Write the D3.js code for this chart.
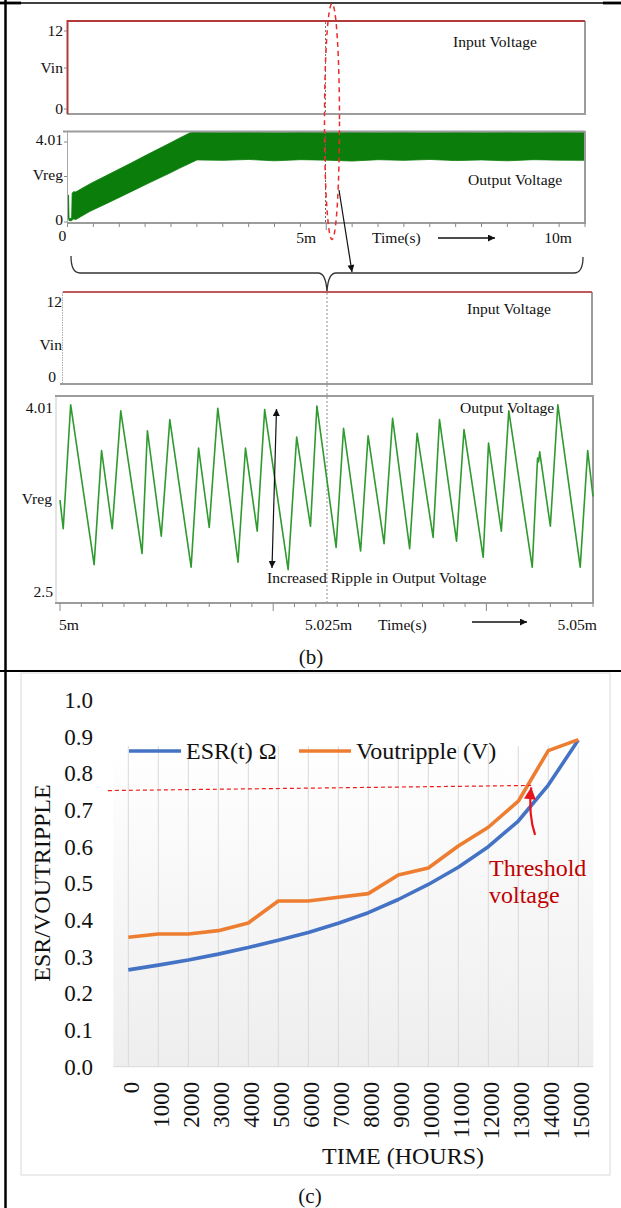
<!DOCTYPE html>
<html>
<head>
<meta charset="utf-8">
<script src="https://cdn.jsdelivr.net/npm/d3@7"></script>
<style>
  body { margin: 0; background: #fff; }
  svg { display: block; font-family: "Liberation Serif", "Times New Roman", serif; }
</style>
</head>
<body>
<svg id="fig" width="621" height="1208"></svg>
<script>
// ---------- data (b): 0..10 ms run ----------
var vinT = [0, 0, 10];          // ms
var vinV = [0, 12, 12];         // V
// envelope of the switching ripple on Vreg
var vregT  = [0.01, 0.02, 0.03, 0.08, 0.09, 0.12, 0.16, 0.43, 0.82, 1.21, 1.59, 1.98, 2.17, 2.40, 2.50, 3.0, 3.5, 4.0, 4.5, 5.0, 5.5, 6.0, 6.5, 7.0, 7.5, 8.0, 8.5, 9.0, 9.5, 10.0];
var vregLo = [0.22, 0.22, 0.10, 0.10, 0.13, 0.18, 0.15, 0.51, 0.93, 1.36, 1.78, 2.20, 2.42, 2.67, 2.78, 2.76, 2.80, 2.74, 2.79, 2.77, 2.73, 2.79, 2.76, 2.80, 2.75, 2.78, 2.74, 2.79, 2.77, 2.76];
var vregHi = [1.23, 1.23, 0.20, 0.20, 1.32, 1.38, 1.37, 1.72, 2.17, 2.62, 3.07, 3.52, 3.75, 4.01, 4.01, 4.00, 4.01, 3.99, 4.01, 4.00, 4.01, 4.00, 4.01, 3.99, 4.01, 4.00, 4.01, 4.00, 4.01, 4.00];

// ---------- data (b): zoom 5.0 .. 5.05 ms ----------
var zoomVinT = [5.0, 5.05];
var zoomVinV = [12, 12];
var rippleT = [5.0000,5.0003,5.0010,5.0032,5.0039,5.0049,5.0057,5.0077,5.0082,5.0095,5.0103,5.0123,5.0130,5.0140,5.0148,5.0167,5.0174,5.0185,5.0192,5.0214,5.0222,5.0235,5.0241,5.0259,5.0266,5.0282,5.0289,5.0304,5.0312,5.0328,5.0335,5.0350,5.0356,5.0372,5.0379,5.0397,5.0402,5.0414,5.0421,5.0443,5.0448,5.0449,5.0450,5.0460,5.0467,5.0488,5.0495,5.0500];
var rippleV = [3.24,3.01,4.01,2.72,3.64,3.01,3.96,2.81,3.80,2.95,3.89,2.70,3.66,3.02,3.98,2.74,3.66,2.99,3.97,2.68,3.75,3.03,4.00,2.86,3.82,2.83,3.76,2.89,3.90,2.85,3.78,2.94,3.89,2.91,3.81,2.78,3.70,2.99,3.96,2.70,3.58,3.55,3.63,3.03,4.01,2.70,3.64,3.27];

// ---------- data (c) ----------
var hours = ["0","1000","2000","3000","4000","5000","6000","7000","8000","9000","10000","11000","12000","13000","14000","15000"];
var esr   = [0.264,0.277,0.291,0.307,0.325,0.345,0.366,0.391,0.420,0.456,0.497,0.544,0.600,0.670,0.768,0.891];
var vrip  = [0.353,0.362,0.362,0.371,0.392,0.452,0.452,0.462,0.472,0.523,0.542,0.602,0.653,0.724,0.862,0.892];
var yTicksC = [0,0.1,0.2,0.3,0.4,0.5,0.6,0.7,0.8,0.9,1.0];
// threshold annotation (category index, value)
var thrIdx = [-0.68, 13.43], thrVal = [0.753, 0.767];
var arrIdx = [13.56, 13.43], arrVal = [0.632, 0.762];

var svg = d3.select("#fig");
var defs = svg.append("defs");

function marker(id, color, w, h) {
  defs.append("marker").attr("id", id)
    .attr("viewBox", "0 0 10 10").attr("refX", 10).attr("refY", 5)
    .attr("markerWidth", w).attr("markerHeight", h)
    .attr("markerUnits", "userSpaceOnUse").attr("orient", "auto-start-reverse")
    .append("path").attr("d", "M0,0L10,5L0,10z").attr("fill", color);
}
marker("ab", "#111", 9, 7);
marker("ar", "#e8141b", 14, 12);

var grad = defs.append("linearGradient").attr("id", "plotbg")
  .attr("x1", 0).attr("y1", 0).attr("x2", 0).attr("y2", 1);
grad.append("stop").attr("offset", "0%").attr("stop-color", "#ffffff");
grad.append("stop").attr("offset", "100%").attr("stop-color", "#eeeeee");

// ---------- outer table frame ----------
svg.append("line").attr("x1", 0).attr("x2", 621).attr("y1", 3).attr("y2", 3)
  .attr("stroke", "#000").attr("stroke-width", 1.3);
svg.append("line").attr("x1", 0).attr("x2", 21).attr("y1", 3).attr("y2", 3)
  .attr("stroke", "#000").attr("stroke-width", 2.8);
svg.append("line").attr("x1", 603).attr("x2", 621).attr("y1", 3).attr("y2", 3)
  .attr("stroke", "#000").attr("stroke-width", 2.8);
svg.append("line").attr("x1", 5.5).attr("x2", 5.5).attr("y1", 0).attr("y2", 1208)
  .attr("stroke", "#000").attr("stroke-width", 2.5);
svg.append("line").attr("x1", 0).attr("x2", 621).attr("y1", 671).attr("y2", 671)
  .attr("stroke", "#000").attr("stroke-width", 2);

var gray = "#9c9c9c";
var fsB = 15.6;   // label size in the (b) panels
function label(g, txt, x, y, anchor, size, color) {
  return g.append("text").attr("x", x).attr("y", y).attr("dy", "0.35em")
    .attr("text-anchor", anchor || "start").attr("font-size", size || fsB)
    .attr("fill", color || "#111").text(txt);
}

// ================= (b) top: Vin 0..10 ms =================
var xt = d3.scaleLinear().domain([0, 10]).range([67.5, 585]);
var yv = d3.scaleLinear().domain([0, 12]).range([114, 21]);
var g1 = svg.append("g");
g1.append("line").attr("x1", 67).attr("x2", 585).attr("y1", 114).attr("y2", 114).attr("stroke", gray).attr("stroke-width", 2);
g1.append("line").attr("x1", 585).attr("x2", 585).attr("y1", 21).attr("y2", 115).attr("stroke", gray).attr("stroke-width", 2);
g1.append("line").attr("x1", 325.5).attr("x2", 325.5).attr("y1", 22).attr("y2", 113)
  .attr("stroke", "#777").attr("stroke-dasharray", "2,2");
g1.append("path")
  .attr("d", d3.line().x(function(d, i){ return xt(vinT[i]); }).y(function(d){ return yv(d); })(vinV))
  .attr("fill", "none").attr("stroke", "#b23a3a").attr("stroke-width", 2);
[[12, 10, "12"], [6, 0.5, "Vin"], [0, -5, "0"]].forEach(function(t){
  label(g1, t[2], 63, yv(t[0]) + t[1], "end");
  g1.append("line").attr("x1", 64).attr("x2", 67).attr("y1", yv(t[0]) + t[1]).attr("y2", yv(t[0]) + t[1]).attr("stroke", "#888");
});
label(g1, "Input Voltage", 453, 42);

// ================= (b) top: Vreg 0..10 ms =================
var yg = d3.scaleLinear().domain([0, 4.01]).range([223, 132]);
var g2 = svg.append("g");
g2.append("path")
  .attr("d", d3.area().x(function(d, i){ return xt(vregT[i]); })
    .y0(function(d, i){ return yg(vregLo[i]); }).y1(function(d){ return yg(d); })(vregHi))
  .attr("fill", "#0a7d0a").attr("stroke", "#0a7d0a").attr("stroke-width", 0.8);
g2.append("line").attr("x1", 63).attr("x2", 585).attr("y1", 131.5).attr("y2", 131.5).attr("stroke", gray).attr("stroke-width", 2);
g2.append("line").attr("x1", 585).attr("x2", 585).attr("y1", 131).attr("y2", 224).attr("stroke", gray).attr("stroke-width", 2);
g2.append("line").attr("x1", 67.5).attr("x2", 67.5).attr("y1", 132).attr("y2", 223).attr("stroke", "#aaa");
g2.append("line").attr("x1", 67).attr("x2", 585).attr("y1", 223).attr("y2", 223).attr("stroke", gray).attr("stroke-width", 2);
g2.append("line").attr("x1", 325.5).attr("x2", 325.5).attr("y1", 132).attr("y2", 222)
  .attr("stroke", "#666").attr("stroke-dasharray", "2,2");
g2.selectAll(".tk").data(xt.ticks(20)).enter().append("line")
  .attr("x1", function(d){ return xt(d); }).attr("x2", function(d){ return xt(d); })
  .attr("y1", 223).attr("y2", function(d){ return d === 5 ? 230 : 227; })
  .attr("stroke", "#888");
[[4.01, 8, "4.01"], [2.005, -3, "Vreg"], [0, -3, "0"]].forEach(function(t){
  label(g2, t[2], 63, yg(t[0]) + t[1], "end");
  g2.append("line").attr("x1", 64).attr("x2", 67).attr("y1", yg(t[0]) + t[1] + 2).attr("y2", yg(t[0]) + t[1] + 2).attr("stroke", "#888");
});
label(g2, "Output Voltage", 468, 180);
label(g2, "0", xt(0) - 5, 236, "middle");
label(g2, "5m", xt(5) - 10, 238, "end");
label(g2, "10m", xt(10) - 13, 238, "end");
label(g2, "Time(s)", 372, 238);
g2.append("line").attr("x1", 438).attr("x2", 495).attr("y1", 238).attr("y2", 238)
  .attr("stroke", "#111").attr("stroke-width", 1.4).attr("marker-end", "url(#ab)");

// red dashed ellipse + arrow to zoom
svg.append("ellipse").attr("cx", 332).attr("cy", 121.5).attr("rx", 7.5).attr("ry", 118)
  .attr("fill", "none").attr("stroke", "#ee2a2a").attr("stroke-width", 1.5).attr("stroke-dasharray", "5,4");
svg.append("line").attr("x1", 339).attr("y1", 190).attr("x2", 352).attr("y2", 272)
  .attr("stroke", "#111").attr("stroke-width", 1.2).attr("marker-end", "url(#ab)");

// brace
svg.append("path")
  .attr("d", "M71,256 Q71,273 80,273 L318,273 Q326,273 327,292 Q328,273 336,273 L574,273 Q583,273 583,257")
  .attr("fill", "none").attr("stroke", "#333").attr("stroke-width", 1.3);

// ================= (b) zoom: Vin =================
var xl = d3.scaleLinear().domain([5.0, 5.05]).range([63, 592]);
var yl = d3.scaleLinear().domain([0, 12]).range([384, 292]);
var g3 = svg.append("g");
g3.append("line").attr("x1", 62.5).attr("x2", 62.5).attr("y1", 292).attr("y2", 384).attr("stroke", "#aaa").attr("stroke-dasharray", "1.5,1");
g3.append("line").attr("x1", 60).attr("x2", 592).attr("y1", 384).attr("y2", 384).attr("stroke", gray).attr("stroke-width", 2);
g3.append("line").attr("x1", 592).attr("x2", 592).attr("y1", 292).attr("y2", 385).attr("stroke", gray).attr("stroke-width", 2);
g3.append("path")
  .attr("d", d3.line().x(function(d, i){ return xl(zoomVinT[i]); }).y(function(d){ return yl(d); })(zoomVinV))
  .attr("fill", "none").attr("stroke", "#c05a5a").attr("stroke-width", 2);
[[12, 10, "12"], [6, 7, "Vin"], [0, -7, "0"]].forEach(function(t){
  label(g3, t[2], t[2] === "0" ? 56 : 62, yl(t[0]) + t[1], "end");
});
label(g3, "Input Voltage", 467, 309);

// dotted marker line at 5.025 ms
svg.append("line").attr("x1", 327).attr("x2", 327).attr("y1", 293).attr("y2", 603)
  .attr("stroke", "#888").attr("stroke-dasharray", "2,2");

// ================= (b) zoom: Vreg ripple =================
var xr = d3.scaleLinear().domain([5.0, 5.05]).range([60, 593]);
var yr = d3.scaleLinear().domain([2.5, 4.01]).range([592, 404.7]);
var g4 = svg.append("g");
g4.append("line").attr("x1", 56).attr("x2", 56).attr("y1", 396).attr("y2", 603).attr("stroke", "#c8c8c8");
g4.append("line").attr("x1", 55).attr("x2", 594).attr("y1", 396).attr("y2", 396).attr("stroke", gray).attr("stroke-width", 2);
g4.append("line").attr("x1", 593).attr("x2", 593).attr("y1", 396).attr("y2", 604).attr("stroke", gray).attr("stroke-width", 2);
g4.append("line").attr("x1", 55).attr("x2", 594).attr("y1", 603).attr("y2", 603).attr("stroke", gray).attr("stroke-width", 2);
g4.selectAll(".tk").data(xr.ticks(20)).enter().append("line")
  .attr("x1", function(d){ return xr(d); }).attr("x2", function(d){ return xr(d); })
  .attr("y1", 603).attr("y2", function(d, i){ return i % 10 === 0 ? 611 : 607; })
  .attr("stroke", "#888");
g4.append("path")
  .attr("d", d3.line().x(function(d, i){ return xr(rippleT[i]); }).y(function(d){ return yr(d); })(rippleV))
  .attr("fill", "none").attr("stroke", "#2f9a2f").attr("stroke-width", 1.6).attr("stroke-linejoin", "round");
label(g4, "4.01", 53, yr(4.01) + 3, "end");
label(g4, "Vreg", 52, yr(3.255), "end");
label(g4, "2.5", 53, yr(2.5), "end");
label(g4, "Output Voltage", 460, 408);
label(g4, "Increased Ripple in Output Voltage", 267, 578);
g4.append("line").attr("x1", 272).attr("y1", 568).attr("x2", 276.5).attr("y2", 409)
  .attr("stroke", "#111").attr("stroke-width", 1.2)
  .attr("marker-start", "url(#ab)").attr("marker-end", "url(#ab)");
label(g4, "5m", xr(5.0) - 1, 625);
label(g4, "5.025m", xr(5.025) + 2, 625, "middle");
label(g4, "Time(s)", 378, 625);
label(g4, "5.05m", xr(5.05) + 4, 625, "end");
g4.append("line").attr("x1", 472).attr("x2", 527).attr("y1", 622).attr("y2", 622)
  .attr("stroke", "#111").attr("stroke-width", 1.4).attr("marker-end", "url(#ab)");

label(svg, "(b)", 311, 657, "middle", 21);

// ================= (c) ESR / ripple vs time =================
var xc = d3.scalePoint().domain(hours).range([113.3, 593.3]).padding(0.5);
var xi = d3.scaleLinear().domain([0, 15]).range([xc(hours[0]), xc(hours[15])]);
var yc = d3.scaleLinear().domain([0, 1]).range([1066.7, 700]);
var gc = svg.append("g").attr("font-size", 23);

gc.append("rect").attr("x", 21).attr("y", 673).attr("width", 589).attr("height", 502)
  .attr("fill", "#fff").attr("stroke", "#d9d9d9");
gc.append("rect").attr("x", 113.3).attr("y", 746).attr("width", 480).attr("height", yc(0) - 746)
  .attr("fill", "url(#plotbg)");
gc.selectAll(".grid").data(hours).enter().append("line")
  .attr("x1", function(d){ return xc(d); }).attr("x2", function(d){ return xc(d); })
  .attr("y1", 746).attr("y2", yc(0)).attr("stroke", "#d9d9d9");
gc.append("line").attr("x1", 113.3).attr("x2", 593.3).attr("y1", yc(0)).attr("y2", yc(0)).attr("stroke", "#d9d9d9");

var yAx = gc.append("g").attr("transform", "translate(113,0)")
  .call(d3.axisLeft(yc).tickValues(yTicksC).tickFormat(d3.format(".1f")).tickSize(0).tickPadding(20));
yAx.select(".domain").remove();
yAx.selectAll("text").attr("font-size", 23).attr("font-family", "Liberation Serif, serif").attr("fill", "#111");

var xAx = gc.append("g").attr("transform", "translate(0," + yc(0) + ")")
  .call(d3.axisBottom(xc).tickSize(0));
xAx.select(".domain").remove();
xAx.selectAll("text")
  .attr("transform", "rotate(-90)").attr("x", -15).attr("y", 2).attr("dy", "0.35em")
  .attr("text-anchor", "end").attr("font-size", 23).attr("font-family", "Liberation Serif, serif").attr("fill", "#111");

var lineC = d3.line().x(function(d, i){ return xc(hours[i]); }).y(function(d){ return yc(d); });
gc.append("path").attr("d", lineC(esr)).attr("fill", "none")
  .attr("stroke", "#4472c4").attr("stroke-width", 3.6).attr("stroke-linejoin", "round");
gc.append("path").attr("d", lineC(vrip)).attr("fill", "none")
  .attr("stroke", "#ed7d31").attr("stroke-width", 3.6).attr("stroke-linejoin", "round");

// threshold line + arrow
gc.append("line").attr("x1", xi(thrIdx[0])).attr("y1", yc(thrVal[0]))
  .attr("x2", xi(thrIdx[1])).attr("y2", yc(thrVal[1]))
  .attr("stroke", "#ee1c1c").attr("stroke-width", 1.2).attr("stroke-dasharray", "4,3");
var a0 = [xi(arrIdx[0]), yc(arrVal[0])], a1 = [xi(arrIdx[1]), yc(arrVal[1])];
gc.append("path")
  .attr("d", "M" + a0 + " Q" + (a1[0] - 3) + "," + ((a0[1] + a1[1]) / 2 + 4) + " " + a1)
  .attr("fill", "none").attr("stroke", "#e8141b").attr("stroke-width", 2.2).attr("marker-end", "url(#ar)");
gc.append("text").attr("x", 489).attr("y", 876).attr("font-size", 24).attr("fill", "#c00000").text("Threshold");
gc.append("text").attr("x", 489).attr("y", 903).attr("font-size", 24).attr("fill", "#c00000").text("voltage");

// legend
var leg = [["ESR(t) \u03a9", "#4472c4", 129], ["Voutripple (V)", "#ed7d31", 299]];
leg.forEach(function(l){
  gc.append("line").attr("x1", l[2]).attr("x2", l[2] + 52).attr("y1", 751).attr("y2", 751)
    .attr("stroke", l[1]).attr("stroke-width", 3.6);
  gc.append("text").attr("x", l[2] + 57).attr("y", 751).attr("dy", "0.35em")
    .attr("font-size", 24).attr("fill", "#111").text(l[0]);
});

// axis titles
gc.append("text").attr("transform", "translate(50,883) rotate(-90)")
  .attr("text-anchor", "middle").attr("font-size", 24).attr("fill", "#111").text("ESR/VOUTRIPPLE");
gc.append("text").attr("x", 403).attr("y", 1164).attr("text-anchor", "middle")
  .attr("font-size", 24).attr("fill", "#111").text("TIME (HOURS)");

label(svg, "(c)", 310, 1196, "middle", 21);
</script>
</body>
</html>
